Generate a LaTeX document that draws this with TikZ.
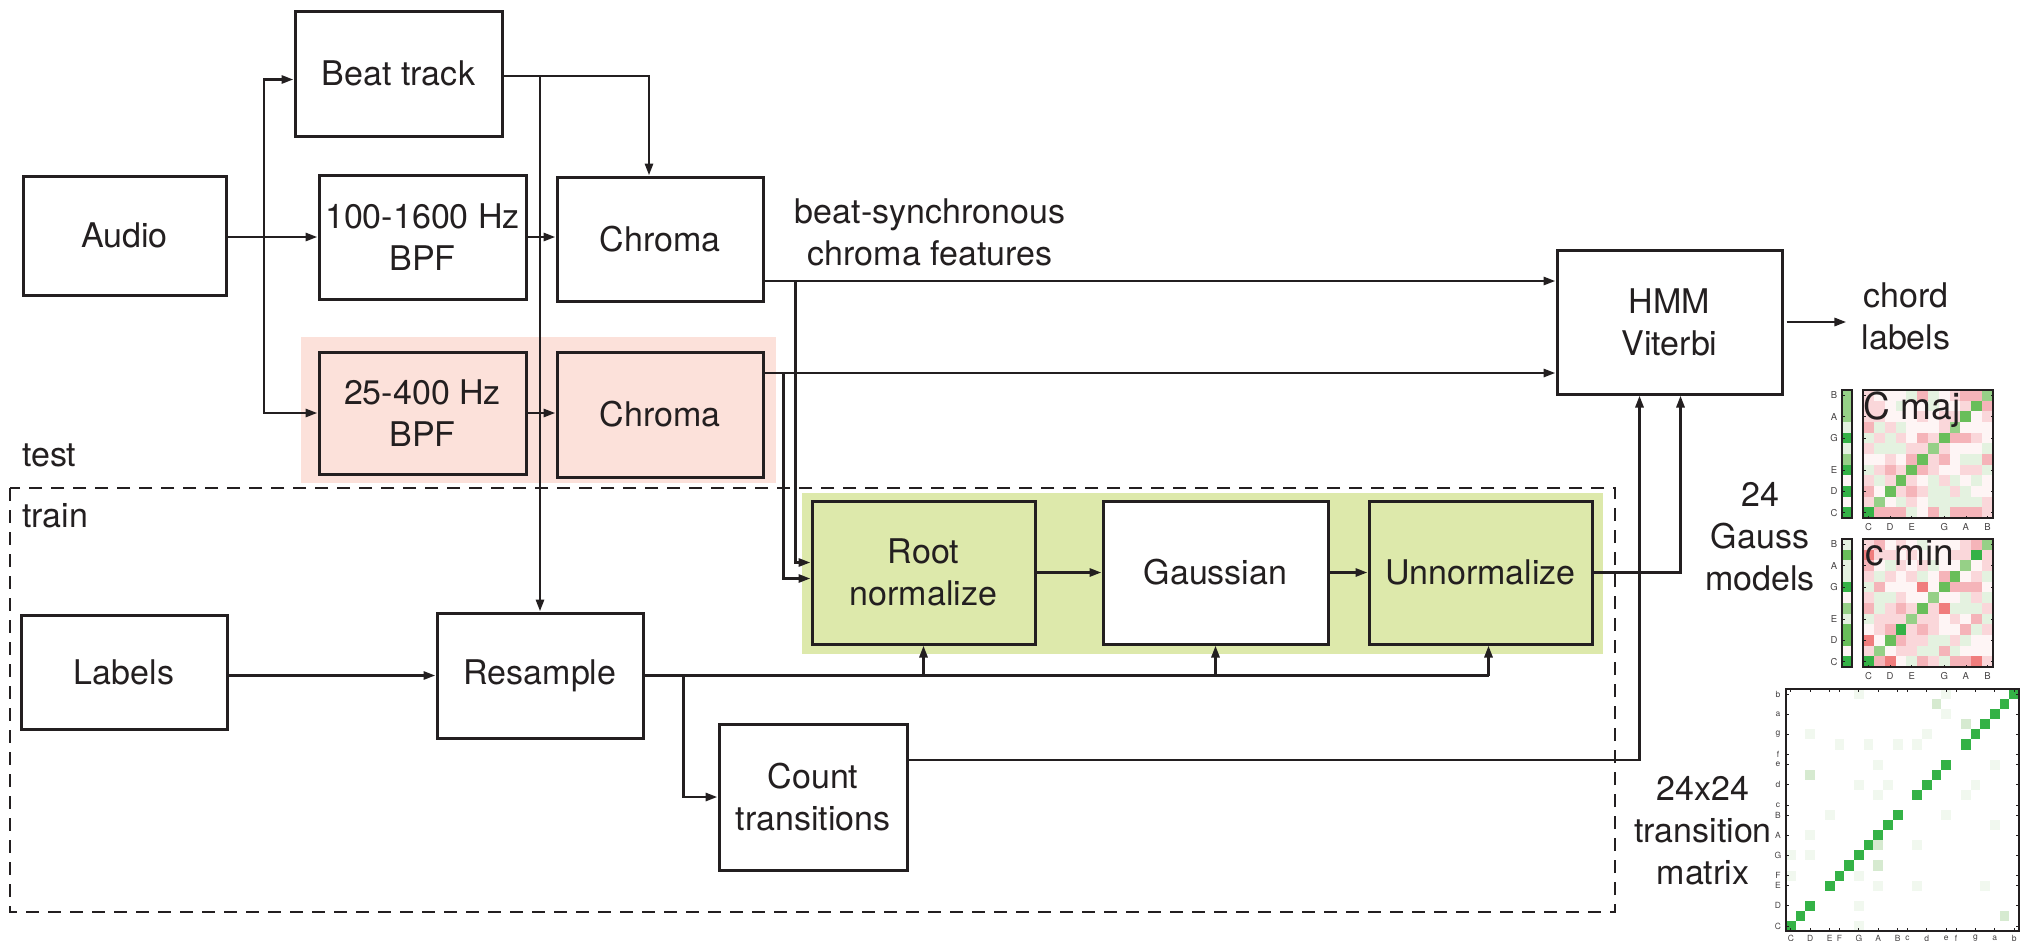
\documentclass[tikz,border=0pt]{standalone}
\usepackage{fontspec}
\setmainfont{TeX Gyre Heros}
\usetikzlibrary{arrows.meta,calc}
\definecolor{ink}{RGB}{35,31,32}
\definecolor{pinkbg}{RGB}{252,225,218}
\definecolor{greenbg}{RGB}{221,233,171}
\definecolor{hmG}{RGB}{52,178,70}
\definecolor{hmM}{RGB}{105,190,90}
\definecolor{hmg}{RGB}{150,208,135}
\definecolor{hmh}{RGB}{228,242,224}
\definecolor{hmP}{RGB}{240,125,125}
\definecolor{hmp}{RGB}{245,180,185}
\definecolor{hmq}{RGB}{250,215,218}
\definecolor{hmw}{RGB}{254,245,245}
\definecolor{hmf}{RGB}{241,248,239}
\definecolor{hml}{RGB}{214,234,208}
\newcommand\hmh{10.67}
\newcommand\hmrow[4]{\foreach \hc [count=\hi from 0] in {#4} {\fill[fill=hm\hc] ({#1+\hi*#3},#2) rectangle ++({#3+0.4},{\hmh+0.4});}}
\newcommand\hmcol[4]{\foreach \hc [count=\hi from 0] in {#4} {\fill[fill=hm\hc] (#1,{#2+\hi*\hmh}) rectangle ++(#3,{\hmh+0.4});}}
\begin{document}
\begin{tikzpicture}[x=1pt,y=-1pt,
  font=\fontsize{34}{42}\selectfont, text=ink,
  box/.style={draw=ink, line width=3pt, align=center, inner sep=0pt},
  line/.style={draw=ink, line width=2.8pt},
  arr/.style={line, -{Triangle[length=12pt,width=8pt]}},
  lbl/.style={align=center, inner sep=0pt},
  tick/.style={font=\fontsize{9.5}{10}\selectfont, inner sep=0pt, text=ink!85},
  tickl/.style={draw=ink, line width=0.8pt}
]
\useasboundingbox (0,0) rectangle (2027,940);
% backgrounds
\fill[pinkbg] (301,337) rectangle (776,483);
\fill[greenbg] (802,493) rectangle (1603,654);
\draw[ink, line width=2.8pt, dash pattern=on 13pt off 9pt] (10,488) rectangle (1615,912);

% boxes
\node[box, minimum width=203pt, minimum height=119pt] (audio) at (124.5,235.5) {Audio};
\node[box, minimum width=207pt, minimum height=125pt] (beat) at (398.5,73.5) {Beat track};
\node[box, minimum width=207pt, minimum height=124pt] (bpf1) at (422.5,237) {100-1600 Hz\\BPF};
\node[box, minimum width=206pt, minimum height=124pt] (chroma1) at (660,239) {Chroma};
\node[box, fill=pinkbg, minimum width=207pt, minimum height=122pt] (bpf2) at (422.5,413) {25-400 Hz\\BPF};
\node[box, fill=pinkbg, minimum width=206pt, minimum height=125pt] (chroma2) at (660,414.5) {Chroma};
\node[box, fill=greenbg, minimum width=223pt, minimum height=143pt] (root) at (923.5,572.5) {Root\\normalize};
\node[box, fill=white, minimum width=225pt, minimum height=143pt] (gauss) at (1215.5,572.5) {Gaussian};
\node[box, fill=greenbg, minimum width=223pt, minimum height=143pt] (unnorm) at (1480.5,572.5) {Unnormalize};
\node[box, minimum width=225pt, minimum height=144pt] (hmm) at (1669.5,322) {HMM\\Viterbi};
\node[box, minimum width=206pt, minimum height=114pt] (labels) at (124,672) {Labels};
\node[box, minimum width=206pt, minimum height=125pt] (resample) at (540,675.5) {Resample};
\node[box, minimum width=188pt, minimum height=146pt] (count) at (813,797) {Count\\transitions};

% free texts
\node[lbl] (bsc) at (930,232) {beat-synchronous\\chroma features};
\node[lbl, anchor=west] (test) at (22,455) {test};
\node[lbl, anchor=west] (train) at (22,516) {train};
\node[lbl] (chord) at (1906,316) {chord\\labels};
\node[lbl] (gm) at (1760,537) {24\\Gauss\\models};
\node[lbl] (tm) at (1703,831) {24x24\\transition\\matrix};

% connectors
\coordinate (split) at (264,237);
\draw[arr] (audio.east |- bpf1.west) -- (bpf1.west);
\draw[arr] (split) |- ([yshift=-6pt]beat.west);
\draw[arr] (split) |- (bpf2.west);
\draw[arr] (bpf1.east) -- (bpf1.east -| chroma1.west);
\draw[arr] (bpf2.east) -- (bpf2.east -| chroma2.west);
\coordinate (bo) at ([yshift=-2.5pt]beat.east);
\draw[arr] (bo) -| ([xshift=-11pt]chroma1.north);
\draw[arr] (bo -| resample.north) -- (resample.north);
\coordinate (c1o) at ([yshift=-42pt]chroma1.east);
\coordinate (c2o) at ([yshift=41.5pt]chroma2.east);
\draw[arr] (c1o) -- (c1o -| hmm.west);
\draw[arr] (c2o) -- (c2o -| hmm.west);
\draw[arr] ([xshift=31pt]c1o) |- ([yshift=10pt]root.west);
\draw[arr] ([xshift=19pt]c2o) |- ([yshift=-6pt]root.west);
\draw[arr] (root.east) -- (gauss.west);
\draw[arr] (gauss.east) -- (unnorm.west);
\draw[arr] (unnorm.east) -| ([xshift=11pt]hmm.south);
\draw[arr] ([yshift=37pt]count.east) -| ([xshift=-30pt]hmm.south);
\draw[arr] (labels.east |- resample.west) -- (resample.west);
\coordinate (u8) at ([xshift=8pt]unnorm.south);
\draw[line] (resample.east) -- (resample.east -| u8);
\draw[arr] (resample.east -| root.south) -- (root.south);
\draw[arr] (resample.east -| gauss.south) -- (gauss.south);
\draw[arr] (resample.east -| u8) -- (u8);
\draw[arr] ([xshift=39pt]resample.east) |- (count.west);
\draw[arr, shorten >=15pt] ([xshift=3pt]hmm.east) -- (hmm.east -| chord.west);

% ---- C maj heatmap ----
\hmcol{1842}{390}{10}{g,g,g,h,G,h,g,G,w,G,w,G}
\hmrow{1863}{390}{10.83}{q,w,w,w,h,p,h,w,q,p,p,g}
\hmrow{1863}{400.67}{10.83}{q,q,w,h,w,w,h,w,w,q,M,p}
\hmrow{1863}{411.33}{10.83}{q,q,w,w,w,q,w,q,q,M,w,q}
\hmrow{1863}{422}{10.83}{p,h,q,h,w,w,w,q,g,w,w,w}
\hmrow{1863}{432.67}{10.83}{h,q,h,q,w,p,q,M,p,p,q,w}
\hmrow{1863}{443.33}{10.83}{q,h,h,h,q,q,g,q,w,w,w,h}
\hmrow{1863}{454}{10.83}{w,w,q,w,p,M,q,p,w,h,h,p}
\hmrow{1863}{464.67}{10.83}{h,q,p,q,M,p,q,w,w,q,q,h}
\hmrow{1863}{475.33}{10.83}{q,h,q,M,q,w,h,q,h,w,h,w}
\hmrow{1863}{486}{10.83}{p,w,M,q,p,q,h,h,q,h,w,w}
\hmrow{1863}{496.67}{10.83}{q,g,w,h,q,w,h,h,h,h,h,q}
\hmrow{1863}{507.33}{10.83}{G,p,p,p,h,w,p,h,p,p,p,q}
\draw[ink, line width=1.2pt] (1842,390) rectangle (1852,518);
\draw[ink, line width=1.5pt] (1863,390) rectangle (1993,518);
\node[lbl, font=\fontsize{37}{40}\selectfont] (cmaj) at (1912,410) {C maj};
\foreach \r/\t in {0/C,2/D,4/E,7/G,9/A,11/B} {
  \node[tick] at (1834,{518-(\r+0.5)*10.67}) {\t};
  \draw[tickl] (1842,{518-(\r+0.5)*10.67}) -- ++(2.5,0);
  \draw[tickl] (1863,{518-(\r+0.5)*10.67}) -- ++(2.5,0);
  \draw[tickl] (1993,{518-(\r+0.5)*10.67}) -- ++(-2.5,0);
}
\foreach \c/\t in {0/C,2/D,4/E,7/G,9/A,11/B} {
  \node[tick] at ({1863+(\c+0.5)*10.83},527) {\t};
  \draw[tickl] ({1863+(\c+0.5)*10.83},518) -- ++(0,-2.5);
}

% ---- c min heatmap ----
\hmcol{1842}{539}{10}{h,M,h,h,G,w,g,h,M,M,w,G}
\hmrow{1863}{539}{10.83}{q,p,w,q,w,h,w,w,w,q,p,g}
\hmrow{1863}{549.67}{10.83}{P,q,q,w,q,w,w,w,q,q,G,q}
\hmrow{1863}{560.33}{10.83}{p,w,h,q,w,q,h,w,w,g,w,q}
\hmrow{1863}{571}{10.83}{q,h,q,w,q,h,w,p,M,w,q,h}
\hmrow{1863}{581.67}{10.83}{h,p,w,w,w,P,w,M,p,p,p,w}
\hmrow{1863}{592.33}{10.83}{q,h,h,q,w,w,g,w,w,h,q,h}
\hmrow{1863}{603}{10.83}{p,h,q,p,q,M,q,P,h,h,h,q}
\hmrow{1863}{613.67}{10.83}{h,q,q,q,g,q,q,w,q,w,p,h}
\hmrow{1863}{624.33}{10.83}{w,q,p,G,q,p,q,w,w,p,h,q}
\hmrow{1863}{635}{10.83}{P,w,M,p,q,q,h,h,q,h,w,w}
\hmrow{1863}{645.67}{10.83}{q,g,w,q,q,h,h,p,h,w,w,w}
\hmrow{1863}{656.33}{10.83}{G,p,P,w,h,p,q,h,p,p,P,q}
\draw[ink, line width=1.2pt] (1842,539) rectangle (1852,667);
\draw[ink, line width=1.5pt] (1863,539) rectangle (1993,667);
\node[lbl, font=\fontsize{37}{40}\selectfont] (cmin) at (1910,553) {c min};
\foreach \r/\t in {0/C,2/D,4/E,7/G,9/A,11/B} {
  \node[tick] at (1834,{667-(\r+0.5)*10.67}) {\t};
  \draw[tickl] (1842,{667-(\r+0.5)*10.67}) -- ++(2.5,0);
  \draw[tickl] (1863,{667-(\r+0.5)*10.67}) -- ++(2.5,0);
  \draw[tickl] (1993,{667-(\r+0.5)*10.67}) -- ++(-2.5,0);
}
\foreach \c/\t in {0/C,2/D,4/E,7/G,9/A,11/B} {
  \node[tick] at ({1863+(\c+0.5)*10.83},676) {\t};
  \draw[tickl] ({1863+(\c+0.5)*10.83},667) -- ++(0,-2.5);
}

% ---- 24x24 transition matrix ----
\fill[white] (1786,689) rectangle (2019,931);
\foreach \c/\r in {7/23,16/23,15/22,16/21,2/19,14/19,5/18,8/18,11/18,13/18,9/16,21/16,7/14,10/14,19/14,9/13,18/13,4/11,16/11,21/10,2/9,13/8,0/7,2/7,0/5,7/5,9/4,13/4,20/4,7/2,7/0}
  \fill[hmf] ({1786+\c*9.71},{931-(\r+1)*10.08}) rectangle ++(9.71,10.08);
\foreach \c/\r in {15/22,18/20,2/15,9/8,9/6,22/1}
  \fill[hml] ({1786+\c*9.71},{931-(\r+1)*10.08}) rectangle ++(9.71,10.08);
\foreach \r in {0,1,2,4,5,...,11,13,14,15,16,18,19,...,23}
  \fill[hmG] ({1786+\r*9.71},{931-(\r+1)*10.08}) rectangle ++(9.71,10.08);
\draw[ink, line width=1.5pt] (1786,689) rectangle (2019,931);
\foreach \r/\t in {0/C,2/D,4/E,5/F,7/G,9/A,11/B,12/c,14/d,16/e,17/f,19/g,21/a,23/b} {
  \node[tick, font=\fontsize{8.5}{9}\selectfont] at (1778,{931-(\r+0.5)*10.08}) {\t};
  \draw[tickl] (1786,{931-(\r+0.5)*10.08}) -- ++(3,0);
  \draw[tickl] (2019,{931-(\r+0.5)*10.08}) -- ++(-3,0);
  \node[tick, font=\fontsize{8.5}{9}\selectfont] at ({1786+(\r+0.5)*9.71},938) {\t};
  \draw[tickl] ({1786+(\r+0.5)*9.71},931) -- ++(0,-3);
  \draw[tickl] ({1786+(\r+0.5)*9.71},689) -- ++(0,3);
}
\end{tikzpicture}
\end{document}
